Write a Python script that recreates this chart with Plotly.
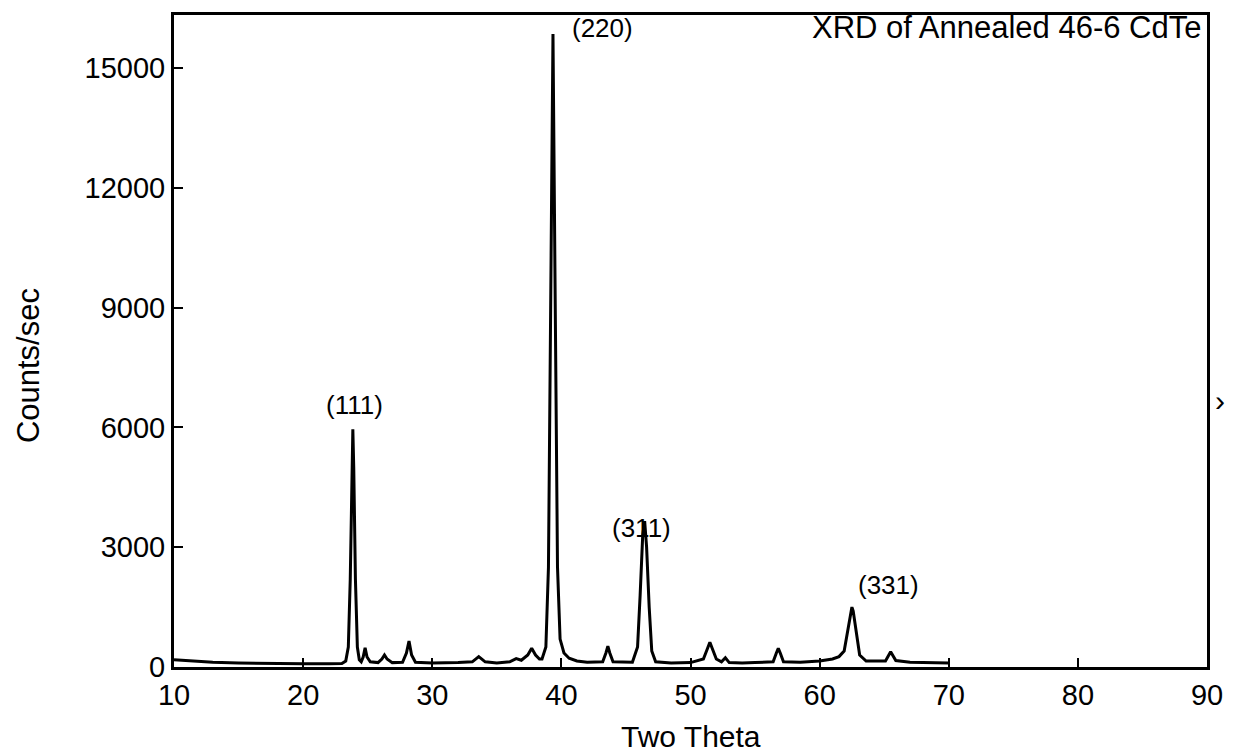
import plotly.graph_objects as go

# Two-theta (deg) and intensity (counts/sec)
two_theta = [10, 11, 13, 15, 18, 20, 22,
             23.0, 23.3, 23.5, 23.65, 23.78, 23.85, 23.92, 24.05, 24.2, 24.35, 24.5,
             24.65, 24.8, 24.95, 25.2, 25.8, 26.1, 26.3, 26.5, 26.9, 27.7, 28.0, 28.2, 28.4, 28.7,
             30, 32, 33.1, 33.6, 34.1, 35, 36, 36.5, 36.9, 37.4, 37.7, 38.0, 38.3,
             38.5, 38.8, 39.0, 39.2, 39.35, 39.5, 39.7, 39.9, 40.2, 40.6, 41.2, 42,
             43.2, 43.45, 43.6, 43.75, 44.0, 45.5, 45.9, 46.1, 46.3, 46.45, 46.6, 46.8, 47.0, 47.3,
             48.5, 50, 51.0, 51.3, 51.5, 51.7, 52.0, 52.4, 52.7, 53.0, 54, 55, 56.4, 56.65, 56.8, 56.95, 57.2,
             58.5, 60, 61.0, 61.5, 61.9, 62.2, 62.4, 62.5, 62.6, 62.8, 63.1, 63.6,
             65.1, 65.5, 65.9, 67, 68, 70]
counts = [180, 160, 120, 100, 80, 80, 80,
          90, 150, 500, 2200, 5000, 5950, 5000, 2200, 500, 180, 130,
          250, 480, 250, 130, 110, 200, 300, 200, 110, 120, 350, 650, 300, 120,
          100, 110, 130, 260, 130, 100, 130, 210, 170, 300, 470, 300, 200,
          200, 500, 2500, 10000, 15850, 10000, 2500, 700, 350, 220, 150, 120,
          130, 350, 520, 350, 130, 120, 500, 1800, 3300, 3650, 3000, 1500, 400, 130,
          100, 110, 200, 450, 620, 450, 200, 130, 230, 110, 100, 110, 130, 350, 470, 350, 130,
          120, 150, 200, 260, 400, 1000, 1400, 1500, 1400, 1000, 300, 150,
          150, 380, 160, 120, 110, 100]

peak_labels = ["(111)", "(220)", "(311)", "(331)"]
label_x = [24.0, 40.7, 46.2, 65.3]
label_y = [6550, 16000, 3475, 2050]
label_anchor = ["center", "left", "center", "center"]

x_ticks = [10, 20, 30, 40, 50, 60, 70, 80, 90]
y_ticks = [0, 3000, 6000, 9000, 12000, 15000]

FONT = "Liberation Sans, Arial, Helvetica, sans-serif"

fig = go.Figure()
fig.add_trace(go.Scatter(x=two_theta, y=counts, mode="lines",
                         line=dict(color="black", width=3), showlegend=False))

for t, xx, yy, a in zip(peak_labels, label_x, label_y, label_anchor):
    fig.add_annotation(x=xx, y=yy, xref="x", yref="y", text=t, showarrow=False,
                       xanchor=a, yanchor="middle", font=dict(size=26, color="black", family=FONT))

fig.add_annotation(x=89.7, y=16000, xref="x", yref="y", text="XRD of Annealed 46-6 CdTe",
                   showarrow=False, xanchor="right", yanchor="middle",
                   font=dict(size=31, color="black", family=FONT))

fig.add_annotation(x=0.5, y=-0.106, xref="paper", yref="paper", text="Two Theta",
                   showarrow=False, xanchor="center", yanchor="middle",
                   font=dict(size=30, color="black", family=FONT))
fig.add_annotation(x=-0.141, y=0.462, xref="paper", yref="paper", text="Counts/sec",
                   showarrow=False, textangle=-90, xanchor="center", yanchor="middle",
                   font=dict(size=31, color="black", family=FONT))
fig.add_annotation(x=1.0125, y=0.409, xref="paper", yref="paper", text="\u203a",
                   showarrow=False, xanchor="center", yanchor="middle",
                   font=dict(size=30, color="black", family=FONT))

fig.update_xaxes(range=[10, 90], tickvals=x_ticks, ticktext=[str(v) for v in x_ticks],
                 ticks="inside", ticklen=9, tickwidth=1.5, tickcolor="black",
                 showline=True, linewidth=3, linecolor="black", mirror=True,
                 showgrid=False, zeroline=False,
                 tickfont=dict(size=29, color="black", family=FONT))
fig.update_yaxes(range=[0, 16325], tickvals=y_ticks, ticktext=[str(v) for v in y_ticks],
                 ticks="inside", ticklen=9, tickwidth=1.5, tickcolor="black",
                 showline=True, linewidth=3, linecolor="black", mirror=True,
                 showgrid=False, zeroline=False,
                 tickfont=dict(size=29, color="black", family=FONT))

fig.update_layout(width=1235, height=756,
                  margin=dict(l=174, r=21, t=14, b=89),
                  paper_bgcolor="white", plot_bgcolor="white")

fig.write_html("out.html")
